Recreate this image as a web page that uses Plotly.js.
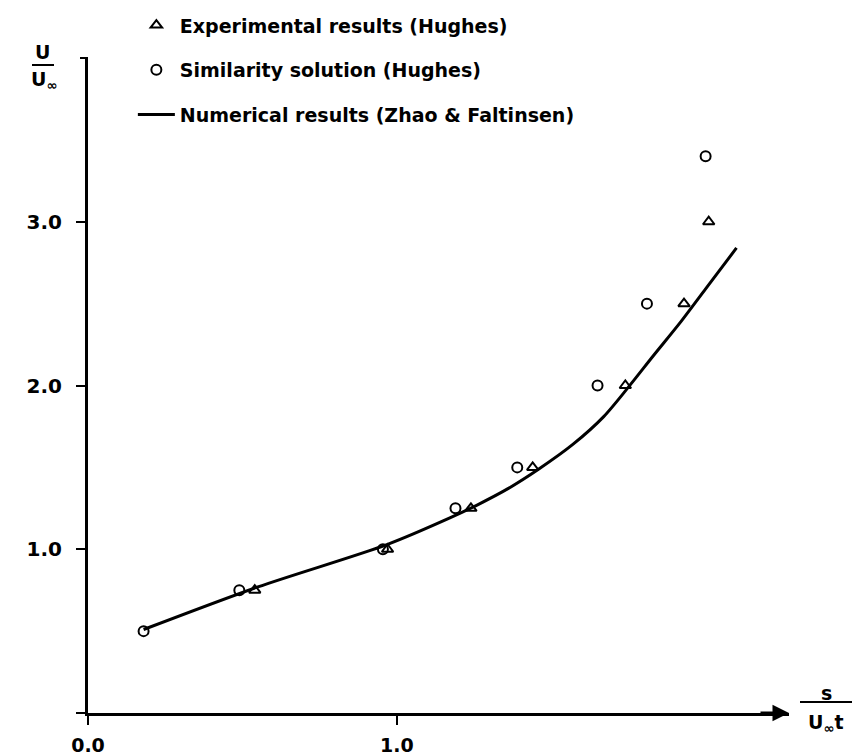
<!DOCTYPE html>
<html>
<head>
<meta charset="utf-8">
<script src="https://cdn.plot.ly/plotly-3.0.1.min.js"></script>
<style>html,body{margin:0;padding:0;background:#fff;}#chart{width:852px;height:756px;}</style>
</head>
<body>
<div id="chart"></div>
<script>
// Experimental results (Hughes) - triangles
const xExp = [0.54, 0.97, 1.24, 1.44, 1.74, 1.93, 2.01];
const yExp = [0.75, 1.0, 1.25, 1.5, 2.0, 2.5, 3.0];
// Similarity solution (Hughes) - circles
const xSim = [0.18, 0.49, 0.955, 1.19, 1.39, 1.65, 1.81, 2.0];
const ySim = [0.5, 0.75, 1.0, 1.25, 1.5, 2.0, 2.5, 3.4];
// Numerical results (Zhao & Faltinsen) - line
const xNum = [0.18, 0.55, 0.97, 1.17, 1.26, 1.36, 1.46, 1.57, 1.67, 1.75, 1.83, 1.92, 2.0, 2.10];
const yNum = [0.51, 0.77, 1.03, 1.19, 1.27, 1.37, 1.49, 1.64, 1.81, 1.99, 2.18, 2.39, 2.59, 2.84];
// tick labels
const xTickVals = [0, 1];
const xTickText = ['0.0', '1.0'];
const yTickVals = [0, 1, 2, 3];
const yTickText = ['', '1.0', '2.0', '3.0'];
const seriesNames = ['Experimental results (Hughes)', 'Similarity solution (Hughes)', 'Numerical results (Zhao & Faltinsen)'];

const FONT = 'DejaVu Sans, Liberation Sans, Arial, sans-serif';
const F = (s) => ({family: FONT, size: s, color: '#000', weight: 'bold'});

const traces = [
  {x: xExp, y: yExp, type: 'scatter', mode: 'markers', name: seriesNames[0], legendgroup: 'a',
   marker: {symbol: 'triangle-up-open', size: 10, color: '#000', line: {width: 2, color: '#000'}}},
  {x: xSim, y: ySim, type: 'scatter', mode: 'markers', name: seriesNames[1], legendgroup: 'b',
   marker: {symbol: 'circle-open', size: 10, color: '#000', line: {width: 2, color: '#000'}}},
  {x: xNum, y: yNum, type: 'scatter', mode: 'lines', name: seriesNames[2], legendgroup: 'c',
   line: {color: '#000', width: 3, shape: 'spline', smoothing: 0.8}}
];

const layout = {
  width: 852, height: 756,
  margin: {l: 88, r: 63, t: 58, b: 43, autoexpand: false},
  paper_bgcolor: '#fff', plot_bgcolor: '#fff',
  font: F(20),
  showlegend: true,
  legend: {x: 0.064, xanchor: 'left', y: 1.079, yanchor: 'top', bgcolor: 'rgba(0,0,0,0)',
           font: F(19), tracegroupgap: 17, itemwidth: 37},
  xaxis: {range: [0, 2.27], showgrid: false, zeroline: false, showline: true, linecolor: '#000', linewidth: 3,
          automargin: false,
          tickmode: 'array', tickvals: xTickVals, ticktext: xTickText, ticks: 'outside', ticklen: 9, tickwidth: 2,
          tickcolor: '#000', ticklabelstandoff: 4, tickfont: F(19)},
  yaxis: {range: [0, 4.0], showgrid: false, zeroline: false, showline: true, linecolor: '#000', linewidth: 3,
          automargin: false,
          tickmode: 'array', tickvals: yTickVals, ticktext: yTickText, ticks: 'outside', ticklen: 9, tickwidth: 2,
          tickcolor: '#000', ticklabelstandoff: 10, tickfont: F(20)},
  annotations: [
    // x-axis arrowhead
    {xref: 'paper', yref: 'paper', x: 1, y: 0, axref: 'pixel', ayref: 'pixel', ax: -30, ay: 0,
     showarrow: true, arrowhead: 2, arrowsize: 1.1, arrowwidth: 3, arrowcolor: '#000', text: '', standoff: 0},
    // x-axis title s / (U∞ t)
    {xref: 'paper', yref: 'paper', x: 1, y: 0, xshift: 37, yshift: 20, showarrow: false, text: 's',
     font: F(19), xanchor: 'center', yanchor: 'middle'},
    {xref: 'paper', yref: 'paper', x: 1, y: 0, xshift: 37, yshift: -10, showarrow: false, text: 'U<sub>∞</sub>t',
     font: F(19), xanchor: 'center', yanchor: 'middle'},
    // y-axis title U / U∞
    {xref: 'paper', yref: 'paper', x: 0, y: 1, xshift: -46, yshift: 6, showarrow: false, text: 'U',
     font: F(19), xanchor: 'center', yanchor: 'middle'},
    {xref: 'paper', yref: 'paper', x: 0, y: 1, xshift: -44, yshift: -22, showarrow: false, text: 'U<sub>∞</sub>',
     font: F(19), xanchor: 'center', yanchor: 'middle'}
  ],
  shapes: [
    // fraction bar for x title
    {type: 'line', xref: 'paper', yref: 'paper', xsizemode: 'pixel', ysizemode: 'pixel', xanchor: 1, yanchor: 0,
     x0: 11, x1: 63, y0: 11, y1: 11, line: {color: '#000', width: 2}},
    // fraction bar for y title
    {type: 'line', xref: 'paper', yref: 'paper', xsizemode: 'pixel', ysizemode: 'pixel', xanchor: 0, yanchor: 1,
     x0: -56, x1: -34, y0: -7, y1: -7, line: {color: '#000', width: 2}},
    // small hook at top of y-axis
    {type: 'line', xref: 'paper', yref: 'paper', xsizemode: 'pixel', ysizemode: 'pixel', xanchor: 0, yanchor: 1,
     x0: -8, x1: 0, y0: 0, y1: 0, line: {color: '#000', width: 2}}
  ]
};

Plotly.newPlot('chart', traces, layout, {displayModeBar: false, staticPlot: true});
</script>
</body>
</html>
